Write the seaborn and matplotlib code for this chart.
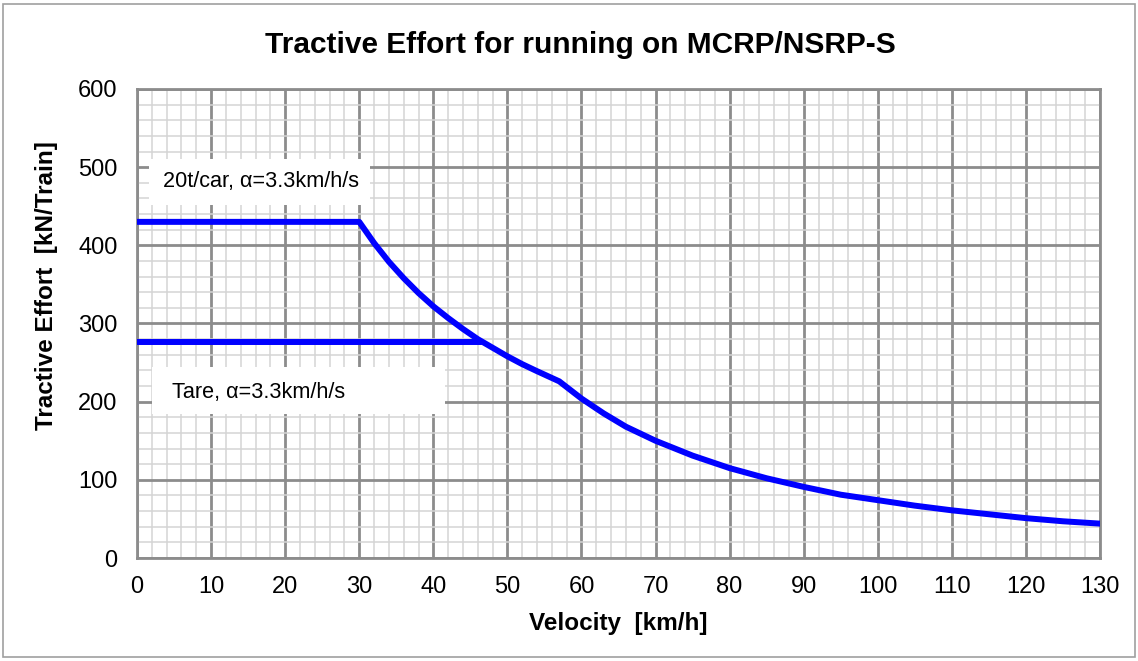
import numpy as np
import pandas as pd
import seaborn as sns
import matplotlib
matplotlib.use("Agg")
import matplotlib.pyplot as plt
from matplotlib.ticker import MultipleLocator
from matplotlib.patches import Rectangle

# Data
loaded_v = [0, 30, 32, 34, 36, 38, 40, 42, 44, 46, 48, 50, 52, 54, 57, 60, 63, 66,
            70, 75, 80, 85, 90, 95, 100, 105, 110, 115, 120, 125, 130]
loaded_te = [430, 430, 403, 379, 358, 339, 322, 307, 293, 280, 269, 258, 248, 239, 226,
             204, 185, 168, 150, 131, 115, 102, 91, 81, 74, 67, 61, 56, 51, 47, 44]
tare_v = [0, 46.5]
tare_te = [276, 276]

title = "Tractive Effort for running on MCRP/NSRP-S"
xlabel = "Velocity  [km/h]"
ylabel = "Tractive Effort  [kN/Train]"
label_loaded = "20t/car, α=3.3km/h/s"
label_tare = "Tare, α=3.3km/h/s"

sns.set_style("white")
plt.rcParams['font.family'] = ['Liberation Sans', 'DejaVu Sans']
plt.rcParams['text.color'] = 'black'
plt.rcParams['axes.labelcolor'] = 'black'

fig = plt.figure(figsize=(11.38, 6.61), dpi=100)
ax = fig.add_axes([0.1204, 0.1558, 0.8462, 0.7096])

df1 = pd.DataFrame({"v": loaded_v, "te": loaded_te})
df2 = pd.DataFrame({"v": tare_v, "te": tare_te})
sns.lineplot(data=df1, x="v", y="te", ax=ax, color="#0000FF", linewidth=4.3,
             sort=False, estimator=None, zorder=5)
sns.lineplot(data=df2, x="v", y="te", ax=ax, color="#0000FF", linewidth=4.3,
             sort=False, estimator=None, zorder=5)

ax.set_xlim(0, 130)
ax.set_ylim(0, 600)
ax.xaxis.set_major_locator(MultipleLocator(10))
ax.xaxis.set_minor_locator(MultipleLocator(2))
ax.yaxis.set_major_locator(MultipleLocator(100))
ax.yaxis.set_minor_locator(MultipleLocator(20))
ax.grid(which="minor", color="#d4d4d4", linewidth=1.1, zorder=0)
ax.grid(which="major", color="#8c8c8c", linewidth=2.0, zorder=1)
ax.set_axisbelow(True)
for s in ax.spines.values():
    s.set_color("#8c8c8c")
    s.set_linewidth(2.0)
ax.tick_params(axis="both", which="both", length=0, labelsize=17, colors="black")
ax.tick_params(axis="x", pad=13)
ax.tick_params(axis="y", pad=14)

ax.set_xlabel(xlabel, fontsize=17.5, fontweight="bold", labelpad=10)
ax.set_ylabel(ylabel, fontsize=17.5, fontweight="bold", labelpad=13)
ax.yaxis.set_label_coords(-0.082, 0.58)
ax.set_title(title, fontsize=21.5, fontweight="bold", pad=26, x=0.46)

# white label boxes
ax.add_patch(Rectangle((1.6, 452), 29.8, 58, facecolor="white", edgecolor="none", zorder=4))
ax.add_patch(Rectangle((2.0, 184), 39.6, 60, facecolor="white", edgecolor="none", zorder=4))
ax.text(3.5, 481, label_loaded, fontsize=15.6, va="center", ha="left", zorder=6)
ax.text(4.7, 212, label_tare, fontsize=15.6, va="center", ha="left", zorder=6)

fig.patches.append(Rectangle((0.003, 0.006), 0.994, 0.988, transform=fig.transFigure,
                             fill=False, edgecolor="#a0a0a0", linewidth=1.2))

fig.savefig("out.png", dpi=100)
